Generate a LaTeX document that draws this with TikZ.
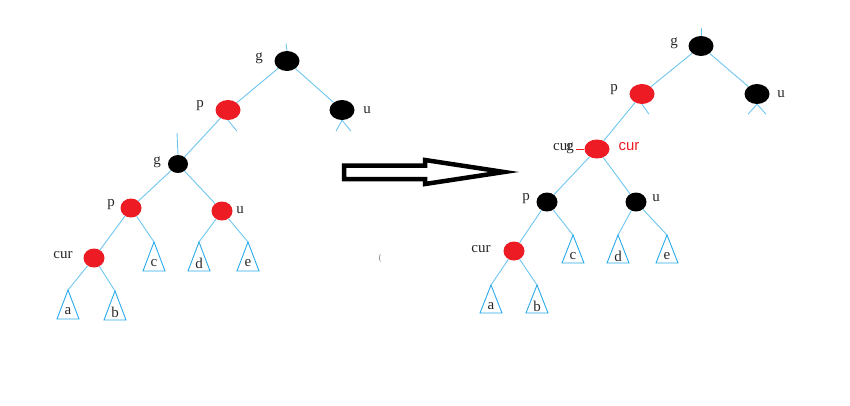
\documentclass[tikz,border=0pt]{standalone}
\usepackage{fontspec}
\setmainfont{Liberation Serif}
\setsansfont{Liberation Sans}
\usetikzlibrary{shapes.geometric}
\definecolor{nred}{RGB}{237,28,36}
\definecolor{eblue}{RGB}{110,198,240}
\definecolor{tblue}{RGB}{40,170,235}
\definecolor{lgray}{RGB}{40,40,40}
\tikzset{
  rbtree/.style={x=1pt,y=-1pt},
  rbnode/.style={ellipse,inner sep=0pt,minimum width=25pt,minimum height=20pt},
  rednode/.style={rbnode,fill=nred},
  blknode/.style={rbnode,fill=black},
  smallnode/.style={minimum width=21pt,minimum height=19pt},
  edge/.style={eblue,line width=0.9pt},
  subtr/.style={tblue,line width=0.9pt},
  lbl/.style={text=lgray,font=\fontsize{15}{15}\selectfont,inner sep=0pt},
}

\begin{document}
\begin{tikzpicture}[rbtree]
    \useasboundingbox (0,0) rectangle (850,405);
    % before: left tree
    \node[blknode] (lg) at (287,61) {};
    \node[rednode] (lp) at (228,110) {};
    \node[blknode] (lu) at (342,110) {};
    \node[blknode,smallnode,minimum width=20pt,minimum height=18pt] (lg2) at (178,164) {};
    \node[rednode,smallnode] (lp2) at (131,208) {};
    \node[rednode,smallnode] (lu2) at (222,211) {};
    \node[rednode,smallnode] (lcur) at (94,258) {};
    \foreach \n/\x/\y/\t in {la/68/290/a, lb/115/291/b, lc/154/242/c, ld/199/242/d, le/248/242/e}{
      \coordinate (\n) at (\x,\y);
      \draw[subtr] (\n) -- ++(-11,29) -- ++(22,0) -- cycle;
      \node[lbl] (\n-t) at (\x,{\y+21}) {\t};
    }
    \draw[edge] (lg) -- (lp);
    \draw[edge] (lg) -- (lu);
    \draw[edge] (lp) -- (lg2);
    \draw[edge] (lg2) -- (lp2);
    \draw[edge] (lg2) -- (lu2);
    \draw[edge] (lp2) -- (lcur);
    \draw[edge] (lp2) -- (lc);
    \draw[edge] (lu2) -- (ld);
    \draw[edge] (lu2) -- (le);
    \draw[edge] (lcur) -- (la);
    \draw[edge] (lcur) -- (lb);
    \draw[edge] (lg.north) -- ++(-1,-7);
    \draw[edge] (lp.south) -- ++(9,11);
    \draw[edge] (lu.south) -- ++(-6,11);
    \draw[edge] (lu.south) -- ++(9,11);
    \draw[edge] (lg2.north) -- ++(-1,-22);
    \node[lbl] (lg-t) at (259,58) {g};
    \node[lbl] (lp-t) at (200,106) {p};
    \node[lbl] (lu-t) at (367,110) {u};
    \node[lbl] (lg2-t) at (157,162) {g};
    \node[lbl] (lp2-t) at (111,205) {p};
    \node[lbl] (lu2-t) at (240,210) {u};
    \node[lbl] (lcur-t) at (63,255) {cur};
    \node[lbl,text=gray,font=\fontsize{9}{9}\selectfont] (dot) at (380,258) {(};
    % block arrow
    \draw[line width=4.5pt,line join=miter,fill=white]
      (344,165.5) -- (425,165.5) -- (425,160) -- (504,172) -- (425,184) -- (425,179) -- (344,179) -- cycle;
    % after: right tree
    \node[blknode] (rg) at (701,46) {};
    \node[rednode] (rp) at (642,94) {};
    \node[blknode] (ru) at (757,94) {};
    \node[rednode,minimum height=19pt] (rcur) at (597,149) {};
    \node[blknode,smallnode] (rp2) at (547,202) {};
    \node[blknode,smallnode] (ru2) at (636,202) {};
    \node[rednode,smallnode] (rcur2) at (514,251) {};
    \foreach \n/\x/\y/\t in {ra/491/285/a, rb/537/285/b, rc/573/235/c, rd/618/235/d, re/667/235/e}{
      \coordinate (\n) at (\x,\y);
      \draw[subtr] (\n) -- ++(-11,28) -- ++(22,0) -- cycle;
      \node[lbl] (\n-t) at (\x,{\y+21}) {\t};
    }
    \draw[edge] (rg) -- (rp);
    \draw[edge] (rg) -- (ru);
    \draw[edge] (rp) -- (rcur);
    \draw[edge] (rcur) -- (rp2);
    \draw[edge] (rcur) -- (ru2);
    \draw[edge] (rp2) -- (rcur2);
    \draw[edge] (rp2) -- (rc);
    \draw[edge] (ru2) -- (rd);
    \draw[edge] (ru2) -- (re);
    \draw[edge] (rcur2) -- (ra);
    \draw[edge] (rcur2) -- (rb);
    \draw[edge] (rg.north) -- ++(0,-8);
    \draw[edge] (rp.south) -- ++(7,10);
    \draw[edge] (ru.south) -- ++(-9,10);
    \draw[edge] (ru.south) -- ++(9,10);
    % old label "cur" written over "g"
    \node[lbl,anchor=west] (rcur-t) at (553,148) {cu\rlap{r}\kern-1pt g};
    \draw[nred,line width=0.8pt] (576,149) -- (rcur.west);
    \node[lbl,text=nred,font=\sffamily\fontsize{15}{15}\selectfont] (rcur-r) at (629,147) {cur};
    \node[lbl] (rg-t) at (674,43) {g};
    \node[lbl] (rp-t) at (614,90) {p};
    \node[lbl] (ru-t) at (781,94) {u};
    \node[lbl] (rp2-t) at (526,199) {p};
    \node[lbl] (ru2-t) at (656,198) {u};
    \node[lbl] (rcur2-t) at (481,249) {cur};
\end{tikzpicture}
\end{document}
